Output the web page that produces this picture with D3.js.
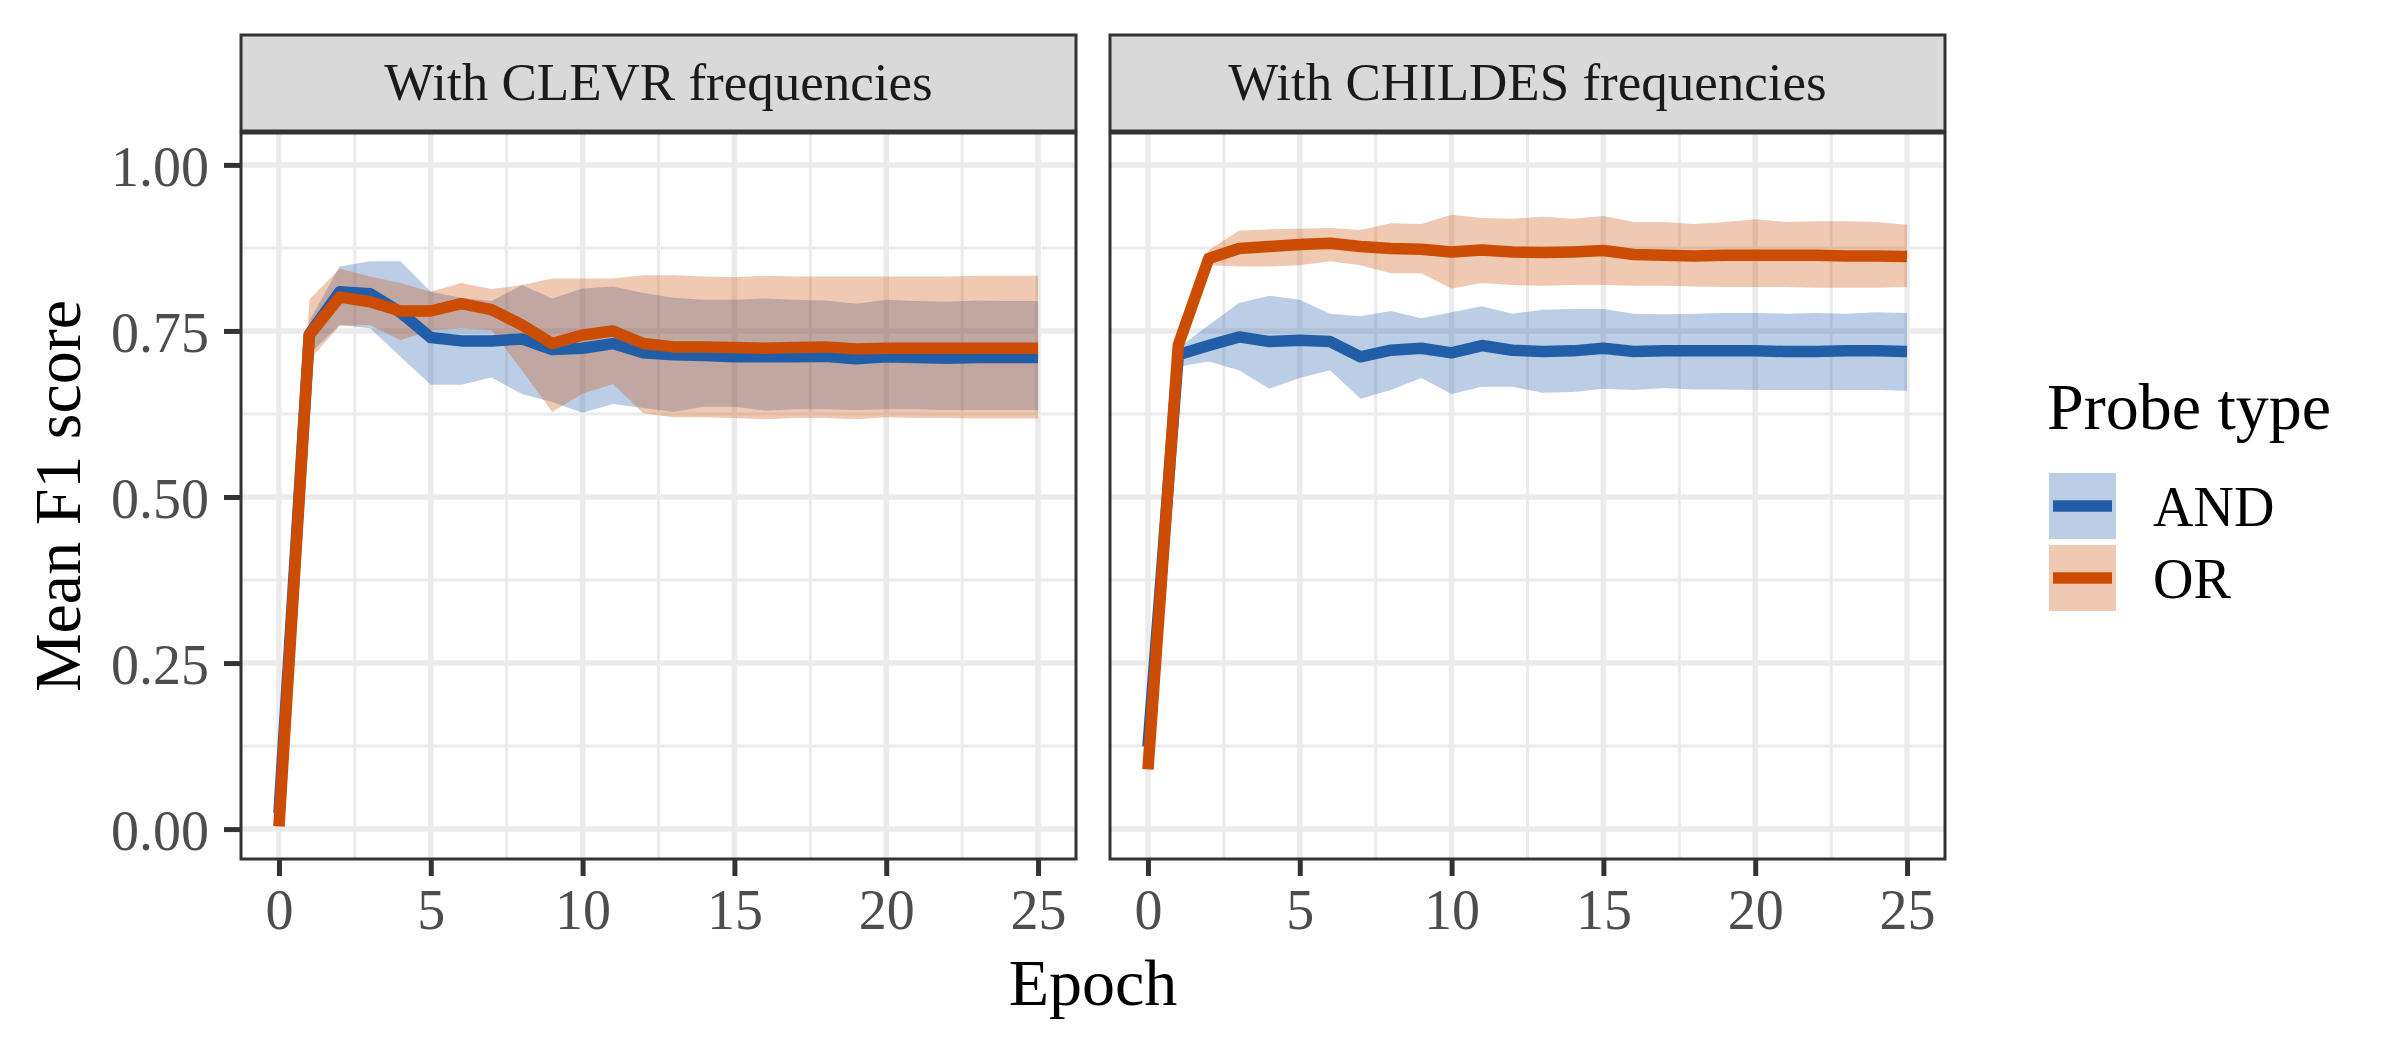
<!DOCTYPE html>
<html>
<head>
<meta charset="utf-8">
<script src="https://cdn.jsdelivr.net/npm/d3@7"></script>
<style>
  body { margin: 0; background: #fff; }
  text { font-family: "Liberation Serif", "Times New Roman", serif; }
</style>
</head>
<body>
<script>
// epochs shared by every series
var epochs = [0, 1, 2, 3, 4, 5, 6, 7, 8, 9, 10, 11, 12, 13, 14, 15, 16, 17, 18, 19, 20, 21, 22, 23, 24, 25];

var facets = ["With CLEVR frequencies", "With CHILDES frequencies"];
var probeTypes = ["AND", "OR"];
var yTicks = [0, 0.25, 0.5, 0.75, 1];
var xTicks = [0, 5, 10, 15, 20, 25];

// CLEVR panel
var clevrAndMean  = [0.024, 0.745, 0.809, 0.806, 0.778, 0.740, 0.735, 0.735, 0.738, 0.722, 0.724, 0.731, 0.717, 0.714, 0.713, 0.711, 0.711, 0.711, 0.712, 0.708, 0.711, 0.710, 0.709, 0.710, 0.710, 0.710];
var clevrAndLow   = [0.020, 0.715, 0.759, 0.754, 0.711, 0.669, 0.669, 0.680, 0.655, 0.643, 0.627, 0.640, 0.634, 0.628, 0.636, 0.636, 0.630, 0.632, 0.632, 0.631, 0.632, 0.632, 0.631, 0.631, 0.631, 0.631];
var clevrAndHigh  = [0.028, 0.765, 0.847, 0.855, 0.855, 0.809, 0.800, 0.795, 0.819, 0.799, 0.814, 0.817, 0.807, 0.800, 0.797, 0.797, 0.799, 0.797, 0.796, 0.791, 0.797, 0.795, 0.794, 0.796, 0.795, 0.795];
var clevrOrMean   = [0.004, 0.744, 0.801, 0.794, 0.780, 0.780, 0.791, 0.782, 0.759, 0.731, 0.744, 0.750, 0.731, 0.726, 0.726, 0.725, 0.724, 0.725, 0.726, 0.723, 0.724, 0.724, 0.724, 0.724, 0.724, 0.724];
var clevrOrLow    = [0.000, 0.706, 0.758, 0.759, 0.736, 0.751, 0.754, 0.751, 0.691, 0.628, 0.656, 0.670, 0.626, 0.620, 0.620, 0.619, 0.617, 0.619, 0.619, 0.617, 0.620, 0.619, 0.619, 0.618, 0.618, 0.618];
var clevrOrHigh   = [0.008, 0.797, 0.844, 0.832, 0.822, 0.809, 0.822, 0.813, 0.819, 0.829, 0.829, 0.829, 0.834, 0.834, 0.832, 0.831, 0.833, 0.832, 0.832, 0.832, 0.832, 0.832, 0.832, 0.833, 0.833, 0.833];

// CHILDES panel
var childesAndMean = [0.124, 0.714, 0.728, 0.741, 0.734, 0.736, 0.734, 0.711, 0.721, 0.724, 0.717, 0.728, 0.721, 0.719, 0.720, 0.724, 0.719, 0.720, 0.720, 0.720, 0.720, 0.719, 0.719, 0.720, 0.720, 0.719];
var childesAndLow  = [0.120, 0.696, 0.704, 0.691, 0.663, 0.679, 0.691, 0.648, 0.661, 0.679, 0.655, 0.666, 0.666, 0.657, 0.658, 0.663, 0.661, 0.664, 0.662, 0.662, 0.661, 0.661, 0.661, 0.661, 0.661, 0.660];
var childesAndHigh = [0.128, 0.724, 0.759, 0.792, 0.803, 0.797, 0.776, 0.772, 0.780, 0.769, 0.778, 0.787, 0.776, 0.782, 0.783, 0.783, 0.776, 0.775, 0.776, 0.777, 0.777, 0.776, 0.777, 0.776, 0.778, 0.777];
var childesOrMean  = [0.090, 0.729, 0.859, 0.874, 0.877, 0.880, 0.882, 0.877, 0.874, 0.873, 0.869, 0.872, 0.869, 0.868, 0.869, 0.871, 0.865, 0.864, 0.863, 0.864, 0.864, 0.864, 0.864, 0.863, 0.863, 0.862];
var childesOrLow   = [0.086, 0.715, 0.849, 0.847, 0.847, 0.849, 0.855, 0.849, 0.837, 0.837, 0.814, 0.822, 0.819, 0.818, 0.819, 0.819, 0.818, 0.818, 0.817, 0.816, 0.816, 0.816, 0.815, 0.815, 0.815, 0.816];
var childesOrHigh  = [0.094, 0.740, 0.872, 0.901, 0.903, 0.904, 0.905, 0.902, 0.912, 0.911, 0.925, 0.920, 0.919, 0.922, 0.919, 0.923, 0.914, 0.914, 0.911, 0.914, 0.918, 0.914, 0.915, 0.915, 0.914, 0.910];

var colors = { AND: "#225ea8", OR: "#cc4c02" };

var panels = [
  { title: facets[0], left: 241, series: [
    { type: "AND", mean: clevrAndMean, low: clevrAndLow, high: clevrAndHigh },
    { type: "OR", mean: clevrOrMean, low: clevrOrLow, high: clevrOrHigh }
  ]},
  { title: facets[1], left: 1110, series: [
    { type: "AND", mean: childesAndMean, low: childesAndLow, high: childesAndHigh },
    { type: "OR", mean: childesOrMean, low: childesOrLow, high: childesOrHigh }
  ]}
];

var panelW = 835, panelTop = 133, panelBottom = 859;
var stripTop = 35;

var svg = d3.select("body").append("svg")
  .attr("width", 2400)
  .attr("height", 1050);

var y = d3.scaleLinear().domain([-0.045, 1.048]).range([panelBottom, panelTop]);

panels.forEach(function(p, pi) {
  var x = d3.scaleLinear().domain([-1.25, 26.25]).range([p.left, p.left + panelW]);
  var g = svg.append("g");

  // panel background + grid
  g.append("rect").attr("x", p.left).attr("y", panelTop)
    .attr("width", panelW).attr("height", panelBottom - panelTop).attr("fill", "#fff");

  var yMinor = [0.125, 0.375, 0.625, 0.875];
  var xMinor = [2.5, 7.5, 12.5, 17.5, 22.5];

  g.selectAll(".ymin").data(yMinor).enter().append("line")
    .attr("x1", p.left).attr("x2", p.left + panelW)
    .attr("y1", y).attr("y2", y)
    .attr("stroke", "#ebebeb").attr("stroke-width", 3);
  g.selectAll(".xmin").data(xMinor).enter().append("line")
    .attr("y1", panelTop).attr("y2", panelBottom)
    .attr("x1", x).attr("x2", x)
    .attr("stroke", "#ebebeb").attr("stroke-width", 3);
  g.selectAll(".ymaj").data(yTicks).enter().append("line")
    .attr("x1", p.left).attr("x2", p.left + panelW)
    .attr("y1", y).attr("y2", y)
    .attr("stroke", "#ebebeb").attr("stroke-width", 5.5);
  g.selectAll(".xmaj").data(xTicks).enter().append("line")
    .attr("y1", panelTop).attr("y2", panelBottom)
    .attr("x1", x).attr("x2", x)
    .attr("stroke", "#ebebeb").attr("stroke-width", 5.5);

  // ribbons first, then lines on top
  var area = function(s) {
    return d3.area()
      .x(function(d, i) { return x(epochs[i]); })
      .y0(function(d, i) { return y(s.low[i]); })
      .y1(function(d, i) { return y(s.high[i]); })(epochs);
  };
  var line = function(s) {
    return d3.line()
      .x(function(d, i) { return x(epochs[i]); })
      .y(function(d, i) { return y(s.mean[i]); })(epochs);
  };

  p.series.forEach(function(s) {
    g.append("path").attr("d", area(s))
      .attr("fill", colors[s.type]).attr("fill-opacity", 0.3);
  });
  p.series.forEach(function(s) {
    g.append("path").attr("d", line(s))
      .attr("fill", "none").attr("stroke", colors[s.type])
      .attr("stroke-width", 11.5)
      .attr("stroke-linejoin", "round").attr("stroke-linecap", "butt");
  });

  // panel border
  g.append("rect").attr("x", p.left).attr("y", panelTop)
    .attr("width", panelW).attr("height", panelBottom - panelTop)
    .attr("fill", "none").attr("stroke", "#333").attr("stroke-width", 3);

  // strip
  g.append("rect").attr("x", p.left).attr("y", stripTop)
    .attr("width", panelW).attr("height", panelTop - stripTop - 2)
    .attr("fill", "#d9d9d9").attr("stroke", "#333").attr("stroke-width", 3);
  g.append("text").attr("x", p.left + panelW / 2).attr("y", 100)
    .attr("text-anchor", "middle").attr("fill", "#1a1a1a")
    .attr("font-size", 53).text(p.title);

  // x axis
  var xAxis = svg.append("g").attr("transform", "translate(0," + panelBottom + ")")
    .call(d3.axisBottom(x).tickValues(xTicks).tickSize(17).tickPadding(13));
  xAxis.select(".domain").remove();
  xAxis.selectAll("line").attr("stroke", "#333").attr("stroke-width", 5);
  xAxis.selectAll("text").attr("font-size", 56).attr("fill", "#4d4d4d")
    .attr("font-family", "Liberation Serif, Times New Roman, serif");

  // y axis only on first panel
  if (pi === 0) {
    var yAxis = svg.append("g").attr("transform", "translate(" + p.left + ",0)")
      .call(d3.axisLeft(y).tickValues(yTicks).tickFormat(d3.format(".2f")).tickSize(17).tickPadding(15));
    yAxis.select(".domain").remove();
    yAxis.selectAll("line").attr("stroke", "#333").attr("stroke-width", 5);
    yAxis.selectAll("text").attr("font-size", 56).attr("fill", "#4d4d4d")
      .attr("dy", "0.36em")
      .attr("font-family", "Liberation Serif, Times New Roman, serif");
  }
});

// axis titles
svg.append("text").attr("x", 1093).attr("y", 1005)
  .attr("text-anchor", "middle").attr("font-size", 66).attr("fill", "#000")
  .text("Epoch");
svg.append("text")
  .attr("transform", "translate(80," + ((panelTop + panelBottom) / 2) + ") rotate(-90)")
  .attr("text-anchor", "middle").attr("font-size", 66).attr("fill", "#000")
  .text("Mean F1 score");

// legend
var legend = svg.append("g");
legend.append("text").attr("x", 2047).attr("y", 429)
  .attr("font-size", 66).attr("fill", "#000").text("Probe type");

var keys = legend.selectAll(".key").data(probeTypes).enter().append("g")
  .attr("transform", function(d, i) { return "translate(2049," + (473 + i * 72) + ")"; });
keys.append("rect").attr("width", 67).attr("height", 66)
  .attr("fill", function(d) { return colors[d]; }).attr("fill-opacity", 0.3);
keys.append("line").attr("x1", 4).attr("x2", 63).attr("y1", 33).attr("y2", 33)
  .attr("stroke", function(d) { return colors[d]; }).attr("stroke-width", 11.5);
keys.append("text").attr("x", 104).attr("y", 53)
  .attr("font-size", 56).attr("fill", "#000").text(function(d) { return d; });
</script>
</body>
</html>
